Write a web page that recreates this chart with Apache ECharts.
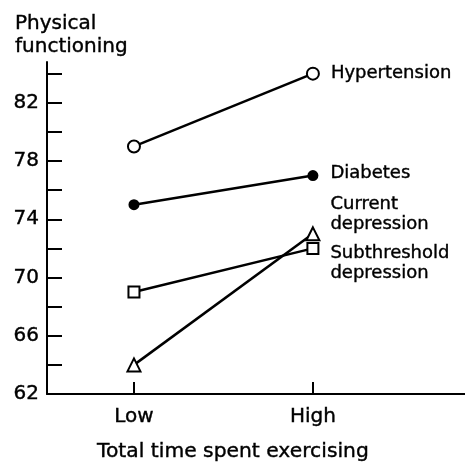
<!DOCTYPE html>
<html>
<head>
<meta charset="utf-8">
<script src="https://cdn.jsdelivr.net/npm/echarts@6/dist/echarts.min.js"></script>
<style>html,body{margin:0;padding:0;background:#fff}#c{width:465px;height:463px}</style>
</head>
<body>
<div id="c"></div>
<script>
const categories = ['Low', 'High'];
const seriesNames = ['Hypertension', 'Diabetes', 'Current\ndepression', 'Subthreshold\ndepression'];
const hypertension = [79, 84];
const diabetes = [75, 77];
const currentDepression = [64, 73];
const subthresholdDepression = [69, 72];
const yTickValues = [62, 64, 66, 68, 70, 72, 74, 76, 78, 80, 82, 84];
const yLabelValues = [62, 66, 70, 74, 78, 82];

const FONT = 'DejaVu Sans';
const TB = {textBorderColor: '#000', textBorderWidth: 0.4};
const chart = echarts.init(document.getElementById('c'), null, {renderer: 'canvas'});

function mk(name, vals, symbol, size, filled, labelOffset, dist) {
  return {
    type: 'line',
    name: name,
    data: vals.map((v, i) => ({
      value: [i + 1, v],
      label: i === vals.length - 1 ? Object.assign({
        show: true, position: 'right', distance: dist, offset: labelOffset,
        formatter: name, color: '#000', fontFamily: FONT, fontSize: 18, lineHeight: 20
      }, TB) : {show: false}
    })),
    symbol: symbol,
    symbolSize: size,
    showAllSymbol: true,
    lineStyle: {color: '#000', width: 2.5},
    itemStyle: {color: filled ? '#000' : '#fff', borderColor: '#000', borderWidth: 2},
    z: 3,
    animation: false
  };
}

chart.setOption({
  animation: false,
  backgroundColor: '#fff',
  title: [
    {text: 'Physical\nfunctioning', left: 10, top: 7,
     textStyle: Object.assign({fontFamily: FONT, fontSize: 20, fontWeight: 'normal', color: '#000', lineHeight: 23}, TB)},
    {text: 'Total time spent exercising', left: 92, top: 437,
     textStyle: Object.assign({fontFamily: FONT, fontSize: 20.3, fontWeight: 'normal', color: '#000'}, TB)}
  ],
  grid: {left: 47, right: 0, top: 62, bottom: 69, containLabel: false},
  xAxis: {
    type: 'value', min: 0.514, max: 2.85,
    axisLine: {lineStyle: {color: '#000', width: 2}},
    axisTick: {inside: true, length: 12, customValues: [1, 2], lineStyle: {color: '#000', width: 2}},
    axisLabel: Object.assign({customValues: [1, 2], formatter: v => categories[Math.round(v) - 1] || '',
      color: '#000', fontFamily: FONT, fontSize: 20, margin: 13}, TB),
    splitLine: {show: false}
  },
  yAxis: {
    type: 'value', min: 62, max: 84.8,
    axisLine: {show: true, lineStyle: {color: '#000', width: 2}},
    axisTick: {show: true, inside: true, length: 15, customValues: yTickValues, lineStyle: {color: '#000', width: 2}},
    axisLabel: Object.assign({customValues: yLabelValues, color: '#000', fontFamily: FONT, fontSize: 20, margin: 8}, TB),
    splitLine: {show: false}
  },
  series: [
    mk(seriesNames[0], hypertension, 'circle', 12, false, [0, 0], 11),
    mk(seriesNames[1], diabetes, 'circle', 9, true, [0, -2], 12),
    mk(seriesNames[2], currentDepression, 'triangle', 13, false, [0, -19], 10),
    mk(seriesNames[3], subthresholdDepression, 'rect', 11, false, [0, 15], 11)
  ]
});
</script>
</body>
</html>
